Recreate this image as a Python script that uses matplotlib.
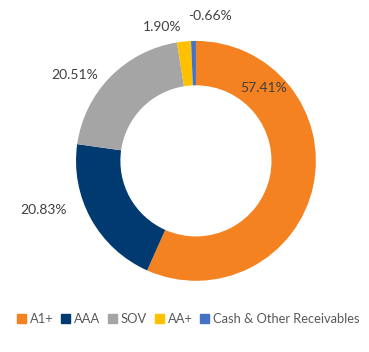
import matplotlib.pyplot as plt
import numpy as np

plt.rcParams['font.family'] = ['Lato', 'DejaVu Sans']

# data
labels = ['A1+', 'AAA', 'SOV', 'AA+', 'Cash & Other Receivables']
values = [57.41, 20.83, 20.51, 1.90, -0.66]
colors = ['#F58220', '#003A70', '#A5A5A5', '#FFC000', '#4472C4']
# label positions (pie radius = 1)
label_pos = [(0.56, 0.61), (-1.27, -0.41), (-1.01, 0.72), (-0.28, 1.12), (0.12, 1.21)]

fig = plt.figure(figsize=(3.69, 3.52), dpi=100)
ax = fig.add_axes([0.206, 0.202, 0.650, 0.682])

sizes = np.abs(values)
wedges, _ = ax.pie(sizes, colors=colors, startangle=90, counterclock=False,
                   wedgeprops=dict(width=0.37, edgecolor='none'))
ax.set_xlim(-1, 1)
ax.set_ylim(-1, 1)
ax.set_aspect('equal')

for v, (x, y) in zip(values, label_pos):
    ax.text(x, y, f'{v:.2f}%', ha='center', va='center', fontsize=10, color='#404040')

handles = [plt.Rectangle((0, 0), 1, 1, color=c) for c in colors]
fig.legend(handles, labels, loc='center', bbox_to_anchor=(0.51, 0.094), ncol=5,
           frameon=False, fontsize=9.3, handlelength=0.7, handleheight=0.7,
           handletextpad=0.3, columnspacing=0.6, labelcolor='#595959')

fig.savefig('out.png', dpi=100)
